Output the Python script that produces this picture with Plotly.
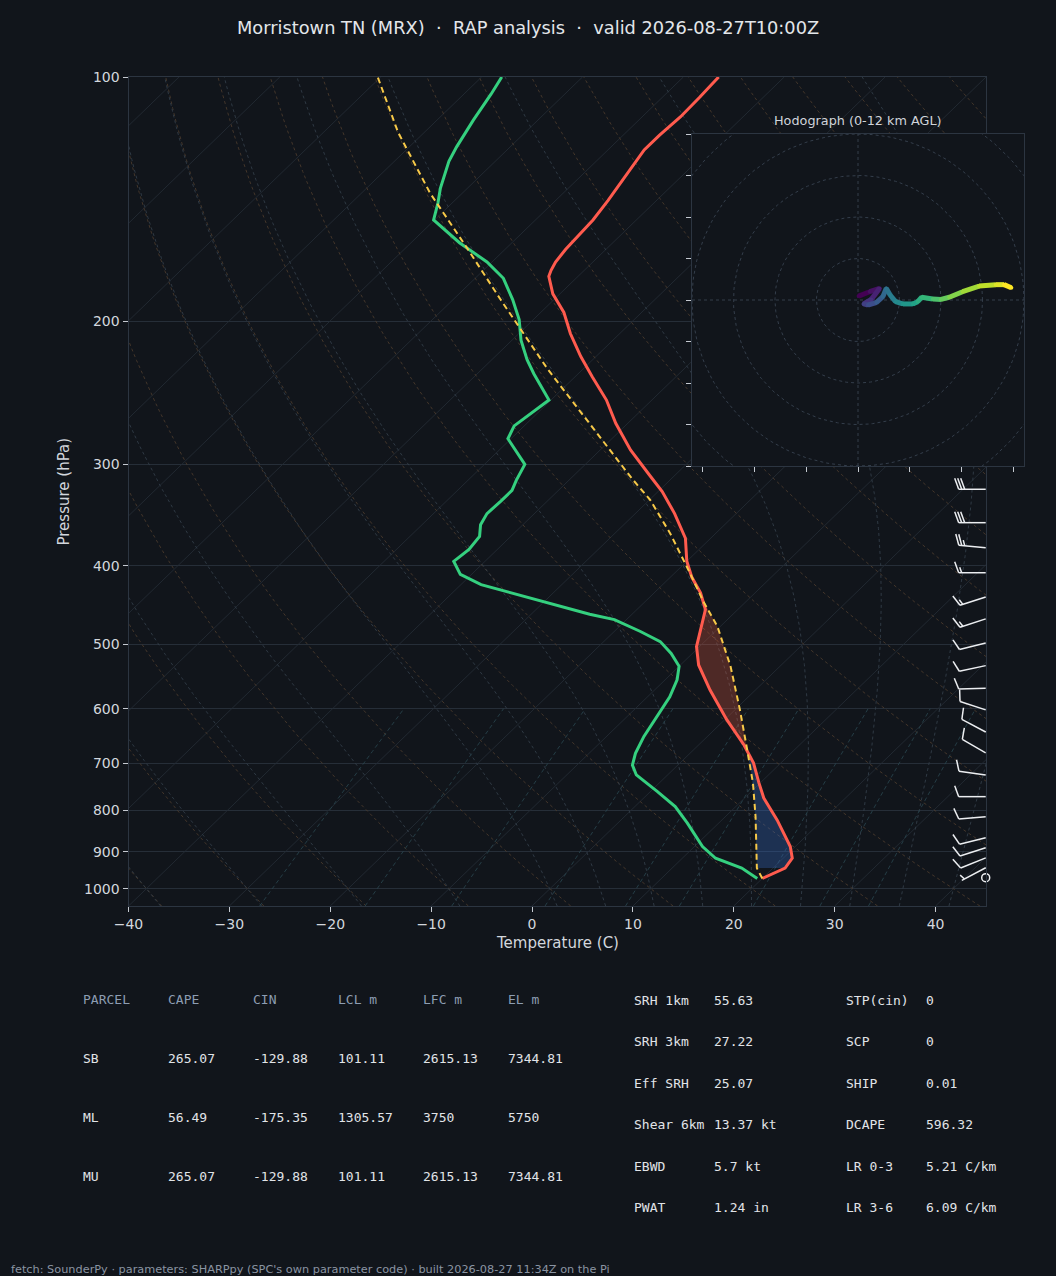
import numpy as np
import plotly.graph_objects as go
from plotly.colors import sample_colorscale

# ------------------------------------------------------------------ data
temp_p = [971, 943, 917, 887, 823, 773, 741, 700, 665, 619, 569, 530, 503, 477,
          453, 432, 413, 395, 370, 345, 324, 309, 288, 267, 250, 234, 221, 207,
          195, 185, 176, 173, 169, 163, 156, 150, 142, 131, 123, 118, 112, 106, 100]
temp_c = [20.0, 21.2, 20.9, 19.5, 15.5, 11.9, 9.9, 7.3, 4.5, 0.2, -4.5, -8.2, -10.3, -11.8,
          -13.2, -15.4, -17.9, -20.0, -22.5, -26.1, -29.6, -32.6, -37.0, -41.2, -44.5, -48.3,
          -51.5, -54.9, -57.7, -60.7, -62.9, -63.3, -63.7, -64.0, -64.2, -64.3, -64.8, -65.7,
          -66.4, -66.4, -66.2, -66.3, -66.5]

dewp_p = [971, 943, 917, 887, 830, 792, 759, 724, 704, 681, 649, 614, 580, 553, 532, 513,
          496, 482, 466, 459, 445, 436, 422, 410, 395, 382, 368, 356, 345, 333, 323, 314,
          300, 279, 269, 250, 232, 223, 211, 199, 188, 177, 169, 160, 150, 143, 137, 127,
          122, 113, 105, 100]
dewp_c = [19.5, 16.9, 13.3, 10.8, 6.9, 4.0, 0.7, -3.1, -4.5, -5.4, -6.3, -7.0, -7.8, -8.8,
          -10.0, -12.1, -14.4, -17.4, -21.2, -24.2, -29.2, -32.6, -38.0, -41.1, -43.1, -42.8,
          -43.1, -44.2, -44.7, -44.6, -44.6, -45.2, -46.0, -50.3, -51.0, -50.2, -54.4, -56.5,
          -59.1, -61.4, -64.1, -67.2, -70.5, -75.2, -80.1, -81.4, -82.7, -84.6, -85.3, -86.4,
          -87.3, -88.0]

parcel_p = [971, 943, 815, 741, 674, 602, 532, 475, 443, 409, 365, 332, 312, 229, 188,
            163, 139, 117, 100]
parcel_c = [20.0, 18.4, 13.0, 9.3, 5.3, 0.5, -4.9, -10.3, -14.2, -18.4, -24.5, -29.9,
            -34.0, -53.5, -65.3, -73.7, -83.2, -92.6, -100.3]

# wind barbs (kt, direction wind is from)
barb_p = [322, 354, 380, 408, 437, 465, 498, 531, 566, 602, 641, 680, 724, 770, 815,
          865, 890, 916, 942]
barb_spd = [30, 30, 25, 15, 15, 15, 10, 10, 10, 10, 10, 10, 10, 10, 10, 10, 10, 10, 5]
barb_dir = [270, 270, 275, 270, 252, 252, 256, 258, 268, 288, 298, 300, 278, 270, 265,
            256, 252, 248, 242]
calm_p = [969]

# hodograph (kt), 0-12 km, ordered by height
hodo_u = [0.3, 5.6, 10.4, 6.4, 2.7, 4.8, 8.8, 12.0, 13.6, 15.5, 18.1, 21.6, 26.4, 28.8,
          30.7, 36.0, 40.0, 44.0, 50.4, 58.4, 66.4, 70.4, 73.9]
hodo_v = [1.9, 4.0, 5.6, 0.3, -1.9, -2.4, -1.3, 1.6, 5.6, 2.4, -0.8, -1.9, -1.9, -0.8,
          1.3, 0.5, 0.3, 1.3, 4.0, 6.7, 7.4, 7.4, 5.9]
hodo_rings = [20, 40, 60, 80, 100]

x_ticks = [-40, -30, -20, -10, 0, 10, 20, 30, 40]
p_ticks = [100, 200, 300, 400, 500, 600, 700, 800, 900, 1000]

parcel_header = ["PARCEL", "CAPE", "CIN", "LCL m", "LFC m", "EL m"]
parcel_names = ["SB", "ML", "MU"]
parcel_cape = ["265.07", "56.49", "265.07"]
parcel_cin = ["-129.88", "-175.35", "-129.88"]
parcel_lcl = ["101.11", "1305.57", "101.11"]
parcel_lfc = ["2615.13", "3750", "2615.13"]
parcel_el = ["7344.81", "5750", "7344.81"]

kin_labels = ["SRH 1km", "SRH 3km", "Eff SRH", "Shear 6km", "EBWD", "PWAT"]
kin_values = ["55.63", "27.22", "25.07", "13.37 kt", "5.7 kt", "1.24 in"]
thermo_labels = ["STP(cin)", "SCP", "SHIP", "DCAPE", "LR 0-3", "LR 3-6"]
thermo_values = ["0", "0", "0.01", "596.32", "5.21 C/km", "6.09 C/km"]

title_text = ("Morristown TN (MRX)\u00a0\u00a0·\u00a0\u00a0RAP analysis\u00a0\u00a0·\u00a0\u00a0"
              "valid 2026-08-27T10:00Z")
footer_text = ("fetch: SounderPy · parameters: SHARPpy (SPC's own parameter code) · "
               "built 2026-08-27 11:34Z on the Pi")

# ------------------------------------------------------------------ style
W, H = 1056, 1276
BG = "#11151b"
SPINE = "#2c3541"
TICK = "#c5cad1"
TXT = "#d3d7dd"
GRID = "#262e38"
ISO = "#242b34"
DRY = "#4a3a2c"
MOIST = "#323d48"
MIX = "#27424b"
RED = "#ff5b4e"
GREEN = "#35d07f"
YELLOW = "#f7c948"

XMIN, XMAX = -40.0, 45.0
P_BOT, P_TOP = 1050.0, 100.0
SKEW = (XMAX - XMIN) * np.tan(np.radians(45))

# pixel boxes
MX0, MX1, MY0, MY1 = 128.5, 986.0, 77.0, 906.0
HX0, HX1, HY0, HY1 = 692.0, 1024.0, 134.0, 466.0


def fx(px):
    return px / W


def fy(py):
    return 1 - py / H


def skew_x(t, p):
    t = np.asarray(t, float)
    p = np.asarray(p, float)
    return t + SKEW * np.log(P_BOT / p) / np.log(P_BOT / P_TOP)


fig = go.Figure()


def add_family(xs_list, ps_list, color, dash, width=0.8):
    xx, yy = [], []
    for xs, ps in zip(xs_list, ps_list):
        xx += list(xs) + [None]
        yy += list(ps) + [None]
    fig.add_trace(go.Scatter(x=xx, y=yy, mode="lines", hoverinfo="skip",
                             line=dict(color=color, width=width, dash=dash),
                             showlegend=False))


# isotherms (skewed)
iso_T = np.arange(-130, 41, 10)
add_family([skew_x([t, t], [P_BOT, P_TOP]) for t in iso_T],
           [[P_BOT, P_TOP] for _ in iso_T], ISO, "solid", 0.9)

# dry adiabats
pp = np.geomspace(P_BOT, P_TOP, 80)
dry_t0 = np.arange(-40, 201, 10)
add_family([skew_x((t0 + 273.15) * (pp / 1000.0) ** 0.2857 - 273.15, pp) for t0 in dry_t0],
           [pp for _ in dry_t0], DRY, "3px,3px", 0.9)


# moist adiabats
def moist_profile(t0c):
    Rd, Cp, Lv, eps = 287.04, 1005.7, 2.501e6, 0.622

    def es(T):
        return 6.112 * np.exp(17.67 * (T - 273.15) / (T - 29.65))

    def f(p, T):
        e = es(T)
        rs = eps * e / (p - e)
        return (Rd * T + Lv * rs) / (p * (Cp + Lv * Lv * rs * eps / (Rd * T * T)))

    def run(p_to, n):
        ps = np.linspace(1000.0, p_to, n)
        T = t0c + 273.15
        out = [T]
        for i in range(n - 1):
            h = ps[i + 1] - ps[i]
            p = ps[i]
            k1 = f(p, T)
            k2 = f(p + h / 2, T + h * k1 / 2)
            k3 = f(p + h / 2, T + h * k2 / 2)
            k4 = f(p + h, T + h * k3)
            T = T + h * (k1 + 2 * k2 + 2 * k3 + k4) / 6
            out.append(T)
        return ps, np.array(out) - 273.15

    pu, tu = run(P_TOP, 240)
    pd_, td = run(P_BOT, 10)
    return np.concatenate([pd_[::-1], pu[1:]]), np.concatenate([td[::-1], tu[1:]])


moist_t0 = [-50, -40, -30, -20, -10, 0, 5, 10, 15, 20, 25, 30, 35, 40]
mx, mp = [], []
for t0 in moist_t0:
    ps, ts = moist_profile(t0)
    mx.append(skew_x(ts, ps))
    mp.append(ps)
add_family(mx, mp, MOIST, "3px,3px", 0.9)

# mixing ratio lines
mix_w = [0.0004, 0.001, 0.002, 0.004, 0.007, 0.01, 0.016, 0.024, 0.032]
pm = np.linspace(P_BOT, 600, 30)
mxl = []
for w in mix_w:
    e = pm * w / (0.622 + w)
    lg = np.log(e / 6.112)
    td = 243.5 * lg / (17.67 - lg)
    mxl.append(skew_x(td, pm))
add_family(mxl, [pm for _ in mix_w], MIX, "4px,3px", 0.9)

# CAPE / CIN shading
FILL_BASE_P = 943.0
grid = np.geomspace(FILL_BASE_P, P_TOP, 800)
lg = -np.log(grid)
Tg = np.interp(lg, -np.log(np.array(temp_p, float)), temp_c)
Pg = np.interp(lg, -np.log(np.array(parcel_p, float)), parcel_c)
diff = Pg - Tg
lfc = int(np.argmax(diff > 0))
el = lfc + int(np.argmax(diff[lfc:] <= 0))


def fill_between(i0, i1, color):
    seg = slice(i0, i1 + 1)
    xs = list(skew_x(Pg[seg], grid[seg])) + list(skew_x(Tg[seg], grid[seg])[::-1])
    ys = list(grid[seg]) + list(grid[seg][::-1])
    fig.add_trace(go.Scatter(x=xs, y=ys, mode="lines", fill="toself", fillcolor=color,
                             line=dict(width=0), hoverinfo="skip", showlegend=False))


fill_between(0, lfc, "rgba(55,110,200,0.32)")
fill_between(lfc, el, "rgba(255,100,70,0.26)")

# profiles
fig.add_trace(go.Scatter(x=skew_x(temp_c, temp_p), y=temp_p, mode="lines",
                         line=dict(color=RED, width=3), showlegend=False))
fig.add_trace(go.Scatter(x=skew_x(dewp_c, dewp_p), y=dewp_p, mode="lines",
                         line=dict(color=GREEN, width=3), showlegend=False))
fig.add_trace(go.Scatter(x=skew_x(parcel_c, parcel_p), y=parcel_p, mode="lines",
                         line=dict(color=YELLOW, width=2, dash="6px,4px"), showlegend=False))

# ------------------------------------------------------------------ wind barbs (pixel overlay)
PW, PH = MX1 - MX0, MY1 - MY0


def p_to_px(p):
    return PH * np.log(P_BOT / np.asarray(p, float)) / np.log(P_BOT / P_TOP)


BX = PW - 0.3
bx, by = [], []
L, HF, WF, SP = 27.0, 11.0, 4.0, 3.0
for p, s, dg in zip(barb_p, barb_spd, barb_dir):
    A = np.array([BX, float(p_to_px(p))])
    th = np.radians(dg)
    d = np.array([np.sin(th), np.cos(th)])
    n = np.array([d[1], -d[0]])
    end = A + L * d
    bx += [A[0], end[0], None]
    by += [A[1], end[1], None]
    full = int(s // 10)
    half = (s % 10) >= 5
    pos = L
    for _ in range(full):
        b = A + pos * d
        t = b + HF * n + WF * d
        bx += [b[0], t[0], None]
        by += [b[1], t[1], None]
        pos -= SP
    if half:
        if full == 0:
            pos -= SP
        b = A + pos * d
        t = b + 0.5 * HF * n + 0.5 * WF * d
        bx += [b[0], t[0], None]
        by += [b[1], t[1], None]
fig.add_trace(go.Scatter(x=bx, y=by, xaxis="x2", yaxis="y2", mode="lines",
                         line=dict(color="#eceef1", width=1.5), hoverinfo="skip",
                         showlegend=False))
fig.add_trace(go.Scatter(x=[BX] * len(calm_p), y=list(p_to_px(calm_p)), xaxis="x2", yaxis="y2",
                         mode="markers", cliponaxis=False,
                         marker=dict(symbol="circle-open", size=8, color="#eceef1",
                                     line=dict(width=1.5, color="#eceef1")),
                         hoverinfo="skip", showlegend=False))

# ------------------------------------------------------------------ hodograph
th = np.linspace(0, 2 * np.pi, 200)
rx, ry = [], []
for r in hodo_rings:
    rx += list(r * np.cos(th)) + [None]
    ry += list(r * np.sin(th)) + [None]
rx += [-80, 80, None, 0, 0]
ry += [0, 0, None, -80, 80]
fig.add_trace(go.Scatter(x=rx, y=ry, xaxis="x3", yaxis="y3", mode="lines",
                         line=dict(color="#343e4b", width=1, dash="3px,3px"),
                         hoverinfo="skip", showlegend=False))
nseg = len(hodo_u) - 1
cols = sample_colorscale("Viridis", [i / (nseg - 1) for i in range(nseg)])
for i in range(nseg):
    fig.add_trace(go.Scatter(x=hodo_u[i:i + 2], y=hodo_v[i:i + 2], xaxis="x3", yaxis="y3",
                             mode="lines+markers",
                             line=dict(color=cols[i], width=5),
                             marker=dict(color=cols[i], size=4),
                             hoverinfo="skip", showlegend=False))

# ------------------------------------------------------------------ layout
axis_common = dict(showline=True, mirror=True, linecolor=SPINE, linewidth=1,
                   zeroline=False, ticks="outside", ticklen=5, tickcolor=TICK,
                   automargin=False,
                   tickfont=dict(size=14, color=TXT, family="DejaVu Sans"))

ann = []
ann.append(dict(text=title_text, x=0.5, y=fy(27), xref="paper", yref="paper",
                showarrow=False, font=dict(size=17.8, color="#e3e6ea", family="DejaVu Sans"),
                xanchor="center", yanchor="middle"))
ann.append(dict(text="Temperature (C)", x=fx((MX0 + MX1) / 2), y=fy(943), xref="paper",
                yref="paper", showarrow=False, font=dict(size=15, color=TXT),
                xanchor="center", yanchor="middle"))
ann.append(dict(text="Pressure (hPa)", x=fx(63), y=fy((MY0 + MY1) / 2), xref="paper",
                yref="paper", showarrow=False, textangle=-90, font=dict(size=15, color=TXT),
                xanchor="center", yanchor="middle"))
ann.append(dict(text="Hodograph (0-12 km AGL)", x=fx((HX0 + HX1) / 2), y=fy(120),
                xref="paper", yref="paper", showarrow=False,
                font=dict(size=12.8, color="#d0d4da"), xanchor="center", yanchor="middle"))
ann.append(dict(text=footer_text, x=fx(9), y=fy(1269), xref="paper", yref="paper",
                showarrow=False, font=dict(size=11.3, color="#8a94a2"),
                xanchor="left", yanchor="middle"))

MONO = "DejaVu Sans Mono"
col_x = [81, 166, 251, 336, 421, 506]
row_y = [999, 1058, 1117, 1176]
for cx, h in zip(col_x, parcel_header):
    ann.append(dict(text=h, x=fx(cx), y=fy(row_y[0]), xref="paper", yref="paper",
                    showarrow=False, font=dict(size=13, color="#8d9db2", family=MONO),
                    xanchor="left", yanchor="middle"))
table_cols = [parcel_names, parcel_cape, parcel_cin, parcel_lcl, parcel_lfc, parcel_el]
for cx, colvals in zip(col_x, table_cols):
    for ry_, v in zip(row_y[1:], colvals):
        ann.append(dict(text=v, x=fx(cx), y=fy(ry_), xref="paper", yref="paper",
                        showarrow=False, font=dict(size=13, color="#e1e4e8", family=MONO),
                        xanchor="left", yanchor="middle"))

rrow_y = [1000, 1041, 1083, 1124, 1166, 1207]
for cx, vals in zip([632, 712, 844, 924], [kin_labels, kin_values, thermo_labels, thermo_values]):
    for ry_, v in zip(rrow_y, vals):
        ann.append(dict(text=v, x=fx(cx), y=fy(ry_), xref="paper", yref="paper",
                        showarrow=False, font=dict(size=13, color="#e1e4e8", family=MONO),
                        xanchor="left", yanchor="middle"))

fig.update_layout(
    width=W, height=H, paper_bgcolor=BG, plot_bgcolor=BG,
    margin=dict(l=0, r=0, t=0, b=0, pad=0, autoexpand=False), showlegend=False,
    font=dict(family="DejaVu Sans", color=TXT),
    xaxis=dict(domain=[fx(MX0), fx(MX1)], range=[XMIN, XMAX], showgrid=False,
               tickvals=x_ticks, ticktext=[str(v).replace("-", "\u2212") for v in x_ticks],
               anchor="y", **axis_common),
    yaxis=dict(domain=[fy(MY1), fy(MY0)], type="log",
               range=[np.log10(P_BOT), np.log10(P_TOP)], showgrid=True, gridcolor=GRID,
               gridwidth=1, tickvals=p_ticks, ticktext=[str(v) for v in p_ticks],
               anchor="x", **axis_common),
    xaxis2=dict(overlaying="x", range=[0, PW], visible=False, anchor="y2"),
    yaxis2=dict(overlaying="y", range=[0, PH], visible=False, anchor="x2"),
    xaxis3=dict(domain=[fx(HX0), fx(HX1)], range=[-80, 80], anchor="y3", showgrid=False,
                tickvals=[-75, -50, -25, 0, 25, 50, 75], showticklabels=False, **axis_common),
    yaxis3=dict(domain=[fy(HY1), fy(HY0)], range=[-80, 80], anchor="x3", showgrid=False,
                tickvals=list(range(-80, 81, 20)), showticklabels=False, **axis_common),
    shapes=[dict(type="rect", xref="x3", yref="y3", x0=-80, x1=80, y0=-80, y1=80,
                 fillcolor=BG, line=dict(width=0), layer="below")],
    annotations=ann,
)

fig.write_html("out.html", config={"displayModeBar": False},
               post_script="document.body.style.margin='0';"
                           "document.body.style.overflow='hidden';"
                           "document.body.style.background='" + BG + "';")
